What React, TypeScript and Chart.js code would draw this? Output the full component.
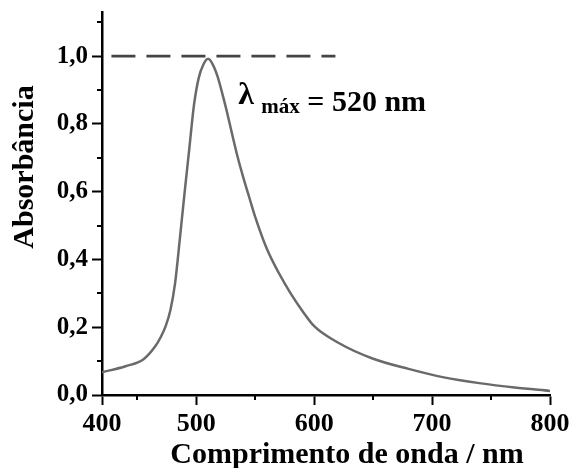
import React, { useEffect, useRef } from "react";
import { Chart, registerables } from "chart.js";

Chart.register(...registerables);

// Wavelength (nm) and absorbance
const WAVELENGTHS = [420, 440, 455, 465, 470, 474, 478, 482, 486, 490, 494, 498, 502, 506, 510, 514, 518, 522, 526, 530, 535, 540, 545, 550, 560, 570, 580, 590, 600, 620, 650, 680, 710, 740, 770, 800];
const ABSORBANCE = [0.067, 0.085, 0.105, 0.143, 0.172, 0.203, 0.25, 0.33, 0.46, 0.595, 0.725, 0.855, 0.935, 0.975, 0.992, 0.975, 0.94, 0.89, 0.835, 0.775, 0.703, 0.64, 0.582, 0.525, 0.43, 0.36, 0.3, 0.248, 0.203, 0.155, 0.107, 0.077, 0.052, 0.035, 0.022, 0.012];

// Dashed reference line at the maximum
const DASH_X = [428, 618];
const DASH_Y = [1.0, 1.0];

// Axis ticks
const X_TICK_VALUES = [420, 450, 500, 550, 600, 650, 700, 750, 800];
const X_TICK_LABELS = ["400", "", "500", "", "600", "", "700", "", "800"];
const Y_TICK_VALUES = [0, 0.1, 0.2, 0.3, 0.4, 0.5, 0.6, 0.7, 0.8, 0.9, 1.0, 1.1];
const Y_TICK_LABELS = ["0,0", "", "0,2", "", "0,4", "", "0,6", "", "0,8", "", "1,0", ""];

const X_TITLE = "Comprimento de onda / nm";
const Y_TITLE = "Absorbância";
const ANNOT_LAMBDA = "λ";
const ANNOT_SUB = "máx";
const ANNOT_MAIN = "= 520 nm";
const ANNOT_X = 535.6;
const ANNOT_Y = 0.86;

const SERIF = "'Liberation Serif', 'Times New Roman', serif";

const decorPlugin = {
  id: "decor",
  afterDraw(chart: any) {
    const ctx = chart.ctx;
    const xs = chart.scales.x;
    const ys = chart.scales.y;
    const area = chart.chartArea;
    ctx.save();
    // minor ticks
    ctx.strokeStyle = "#000";
    ctx.lineWidth = 2;
    X_TICK_VALUES.forEach((v, i) => {
      if (X_TICK_LABELS[i] === "") {
        const px = Math.round(xs.getPixelForValue(v));
        ctx.beginPath();
        ctx.moveTo(px, area.bottom);
        ctx.lineTo(px, area.bottom + 5);
        ctx.stroke();
      }
    });
    Y_TICK_VALUES.forEach((v, i) => {
      if (Y_TICK_LABELS[i] === "") {
        const py = Math.round(ys.getPixelForValue(v));
        ctx.beginPath();
        ctx.moveTo(area.left, py);
        ctx.lineTo(area.left - 5, py);
        ctx.stroke();
      }
    });
    // axis titles
    ctx.fillStyle = "#000";
    ctx.font = `bold 30px ${SERIF}`;
    ctx.textAlign = "center";
    ctx.textBaseline = "alphabetic";
    ctx.fillText(X_TITLE, 347, 463);
    ctx.save();
    ctx.translate(33, 167);
    ctx.rotate(-Math.PI / 2);
    ctx.fillText(Y_TITLE, 0, 0);
    ctx.restore();
    // annotation
    const ax = xs.getPixelForValue(ANNOT_X);
    const ay = ys.getPixelForValue(ANNOT_Y);
    ctx.textAlign = "left";
    ctx.font = `bold 32px ${SERIF}`;
    ctx.fillText(ANNOT_LAMBDA, ax, ay);
    ctx.font = `bold 21px ${SERIF}`;
    ctx.fillText(ANNOT_SUB, ax + 23, ay + 9);
    ctx.font = `bold 30px ${SERIF}`;
    ctx.fillText(ANNOT_MAIN, ax + 69, ay + 7);
    ctx.restore();
  },
};

export default function App() {
  const ref = useRef<HTMLCanvasElement>(null);
  useEffect(() => {
    const curve = WAVELENGTHS.map((x, i) => ({ x, y: ABSORBANCE[i] }));
    const dash = DASH_X.map((x, i) => ({ x, y: DASH_Y[i] }));
    const chart = new Chart(ref.current!, {
      type: "line",
      data: {
        datasets: [
          {
            data: dash,
            borderColor: "#444",
            borderWidth: 2.8,
            borderDash: [24, 11],
            pointRadius: 0,
          },
          {
            data: curve,
            borderColor: "#6a6a6a",
            borderWidth: 2.5,
            pointRadius: 0,
            cubicInterpolationMode: "monotone",
          },
        ],
      },
      options: {
        animation: false,
        responsive: true,
        maintainAspectRatio: false,
        layout: { padding: { left: 0, right: 23, top: 12, bottom: 0 } },
        plugins: { legend: { display: false }, tooltip: { enabled: false } },
        scales: {
          x: {
            type: "linear",
            min: 420,
            max: 800,
            afterBuildTicks: (s: any) => {
              s.ticks = X_TICK_VALUES.map((v) => ({ value: v }));
            },
            afterFit: (s: any) => {
              s.height = 73;
              s.paddingLeft = 0;
              s.paddingRight = 0;
            },
            border: { display: true, color: "#000", width: 2.5 },
            grid: {
              drawOnChartArea: false,
              drawTicks: true,
              tickLength: 10,
              tickWidth: 2,
              tickColor: (c: any) => (X_TICK_LABELS[c.index] ? "#000" : "rgba(0,0,0,0)"),
            },
            ticks: {
              autoSkip: false,
              maxRotation: 0,
              minRotation: 0,
              padding: 4,
              color: "#000",
              font: { family: SERIF, weight: "bold", size: 26 },
              callback: (_v: any, i: number) => X_TICK_LABELS[i],
            },
          },
          y: {
            type: "linear",
            min: 0,
            max: 1.13,
            afterBuildTicks: (s: any) => {
              s.ticks = Y_TICK_VALUES.map((v) => ({ value: v }));
            },
            afterFit: (s: any) => {
              s.width = 102;
              s.paddingTop = 0;
              s.paddingBottom = 0;
            },
            border: { display: true, color: "#000", width: 2.5 },
            grid: {
              drawOnChartArea: false,
              drawTicks: true,
              tickLength: 10,
              tickWidth: 2,
              tickColor: (c: any) => (Y_TICK_LABELS[c.index] ? "#000" : "rgba(0,0,0,0)"),
            },
            ticks: {
              autoSkip: false,
              padding: 4,
              color: "#000",
              font: { family: SERIF, weight: "bold", size: 25 },
              callback: (_v: any, i: number) => Y_TICK_LABELS[i],
            },
          },
        },
      },
      plugins: [decorPlugin],
    });
    return () => chart.destroy();
  }, []);
  return (
    <div style={{ position: "fixed", left: 0, top: 0, width: 573, height: 468, background: "#fff" }}>
      <canvas ref={ref} />
    </div>
  );
}
